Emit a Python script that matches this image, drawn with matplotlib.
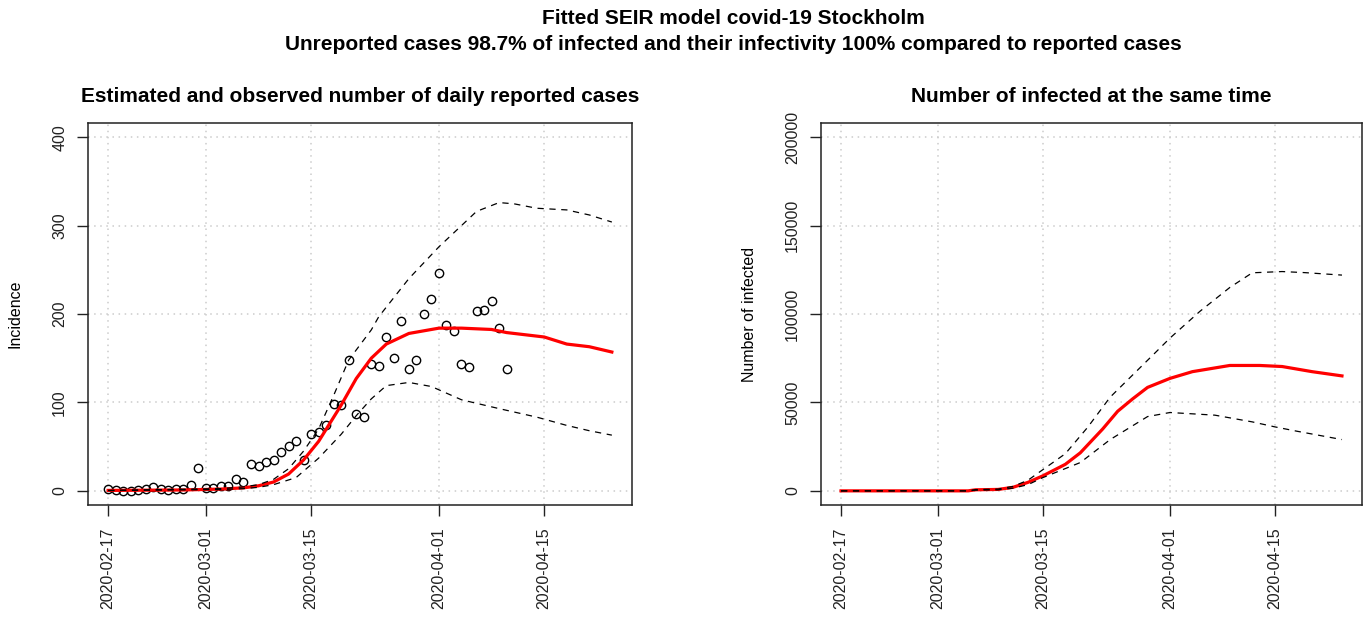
import numpy as np
import pandas as pd
import matplotlib
matplotlib.use("Agg")
import matplotlib.pyplot as plt
import matplotlib.dates as mdates

plt.rcParams['font.family'] = ['Liberation Sans', 'DejaVu Sans']

start = pd.Timestamp("2020-02-17")

# observed daily reported cases, one per day from 2020-02-17
obs_cases = [2, 1, 0, 0, 1, 2, 4, 2, 1, 2, 2, 7, 26, 3, 3, 5, 6, 13, 10, 30,
             28, 33, 35, 44, 51, 56, 35, 64, 67, 75, 98, 97, 148, 87, 84, 143,
             141, 174, 150, 192, 138, 148, 200, 217, 246, 187, 181, 143, 140,
             203, 205, 215, 184, 138]

# fitted incidence (day offset from start, value)
inc_fit_days = [0, 10, 15, 18, 20, 22, 24, 26, 28, 31, 33, 35, 37, 40, 44, 47,
                51, 53, 56, 58, 61, 64, 67]
inc_fit = [0.5, 1, 2, 3.4, 5.7, 10, 19, 35, 56, 97, 127, 150, 166, 178, 184,
           184, 182.5, 179, 176, 174, 166, 163, 157]

inc_hi_days = [0, 15, 18, 20, 22, 24, 26, 28, 30, 32, 35, 36, 40, 44, 47, 49,
               52, 54, 57, 61, 64, 67]
inc_hi = [0.5, 2.5, 4.5, 7, 13, 25, 45, 70, 108, 148, 182, 197, 240, 276, 300,
          316, 326, 324.6, 319.6, 317.7, 312, 304]

inc_lo_days = [0, 15, 18, 20, 22, 25, 28, 31, 33, 35, 37, 40, 43, 47, 52, 57,
               61, 64, 67]
inc_lo = [0.3, 1.5, 2.5, 4, 7, 15, 37, 64, 85, 104, 119, 122.6, 118, 103, 93,
          83.4, 74, 68, 63]

# number of infected at the same time
inf_fit_days = [0, 17, 18, 21, 23, 25, 27, 30, 32, 35, 37, 39, 41, 44, 47, 52,
                56, 59, 63, 67]
inf_fit = [0, 0, 600, 800, 2000, 4800, 8500, 15000, 21500, 35000, 45000, 52000,
           58500, 63600, 67400, 70900, 70900, 70300, 67400, 65000]

inf_hi_days = [0, 17, 18, 21, 23, 25, 27, 30, 33, 36, 42, 44, 48, 52, 55, 59,
               62, 67]
inf_hi = [0, 0, 700, 1000, 2500, 6000, 12000, 21000, 36000, 53000, 78000, 86400,
          101500, 115000, 123300, 124000, 123400, 122000]

inf_lo_days = [0, 17, 18, 21, 23, 25, 27, 32, 36, 41, 44, 50, 55, 58, 61, 67]
inf_lo = [0, 0, 400, 600, 1500, 3500, 7500, 16000, 29000, 42000, 44300, 42800,
          39000, 36200, 33700, 29000]

tick_dates = ["2020-02-17", "2020-03-01", "2020-03-15", "2020-04-01", "2020-04-15"]


def to_dates(days):
    return start + pd.to_timedelta(np.asarray(days, dtype=float), unit="D")


def style_axes(ax, yticks, ylim):
    ax.set_xlim(to_dates([-2.68])[0], to_dates([69.68])[0])
    ax.set_ylim(*ylim)
    ax.set_xticks(pd.to_datetime(tick_dates))
    ax.xaxis.set_major_formatter(mdates.DateFormatter("%Y-%m-%d"))
    ax.set_yticks(yticks)
    ax.set_yticklabels([str(v) for v in yticks], rotation=90, va="center")
    ax.tick_params(axis="x", labelrotation=90, length=8, width=1, pad=8,
                   labelsize=11.5, colors="#222222")
    ax.tick_params(axis="y", length=8, width=1, pad=7, labelsize=11.5,
                   colors="#222222")
    ax.grid(True, color="#cccccc", linestyle=(0, (1, 3)), linewidth=1.1)
    ax.set_axisbelow(True)
    for s in ax.spines.values():
        s.set_linewidth(1.1)
        s.set_color("#222222")


fig = plt.figure(figsize=(13.68, 6.18), dpi=100)
fig.text(733 / 1368, 1 - 19 / 618, "Fitted SEIR model covid-19 Stockholm",
         ha="center", va="center", fontsize=15, fontweight="bold")
fig.text(733 / 1368, 1 - 44 / 618,
         "Unreported cases 98.7% of infected and their infectivity 100% "
         "compared to reported cases",
         ha="center", va="center", fontsize=15, fontweight="bold")

ax1 = fig.add_axes([88 / 1368, 1 - 505 / 618, 544 / 1368, 382 / 618])
ax1.plot(to_dates(np.arange(len(obs_cases))), obs_cases, "o", ms=6,
         mfc="none", mec="black", mew=1)
ax1.plot(to_dates(inc_fit_days), inc_fit, color="red", lw=2.3)
ax1.plot(to_dates(inc_hi_days), inc_hi, color="black", lw=0.9,
         dashes=(5, 4.5))
ax1.plot(to_dates(inc_lo_days), inc_lo, color="black", lw=0.9,
         dashes=(5, 4.5))
style_axes(ax1, [0, 100, 200, 300, 400], (-16, 416))
ax1.set_ylabel("Incidence", fontsize=11.5, labelpad=21)
ax1.set_title("Estimated and observed number of daily reported cases",
              fontsize=15, fontweight="bold", pad=15)

ax2 = fig.add_axes([821 / 1368, 1 - 505 / 618, 541 / 1368, 382 / 618])
ax2.plot(to_dates(inf_fit_days), inf_fit, color="red", lw=2.3)
ax2.plot(to_dates(inf_hi_days), inf_hi, color="black", lw=0.9,
         dashes=(5, 4.5))
ax2.plot(to_dates(inf_lo_days), inf_lo, color="black", lw=0.9,
         dashes=(5, 4.5))
style_axes(ax2, [0, 50000, 100000, 150000, 200000], (-8000, 208000))
ax2.set_ylabel("Number of infected", fontsize=11.5, labelpad=20)
ax2.set_title("Number of infected at the same time",
              fontsize=15, fontweight="bold", pad=15)

fig.savefig("out.png", dpi=100)
